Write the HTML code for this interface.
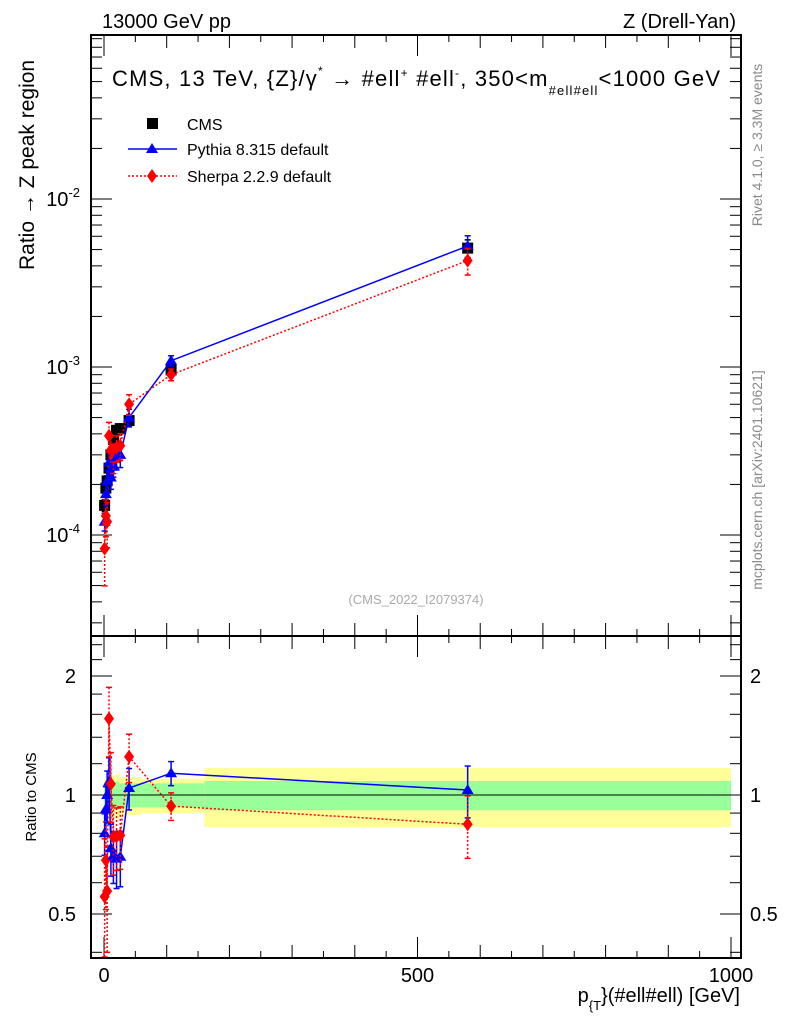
<!DOCTYPE html>
<html><head><meta charset="utf-8"><style>
body{margin:0;background:#fff;}
svg text{font-family:"Liberation Sans",sans-serif;}
</style></head><body>
<svg id="c" width="786" height="1024" xmlns="http://www.w3.org/2000/svg">
<rect width="786" height="1024" fill="#fff"/>
<g id="bands"></g>
<g id="grid"></g>
<g id="marks"></g>
<rect x="91" y="35" width="650" height="601" fill="none" stroke="#000" stroke-width="2"/>
<rect x="91" y="636" width="650" height="322" fill="none" stroke="#000" stroke-width="2"/>
<text x="102" y="28" font-size="20">13000 GeV pp</text>
<text x="736" y="28" font-size="20" text-anchor="end">Z (Drell-Yan)</text>
<text x="112" y="86" font-size="22" textLength="608" lengthAdjust="spacing">CMS, 13 TeV, {Z}/γ<tspan font-size="12" dy="-11">*</tspan><tspan dy="11"> → #ell</tspan><tspan font-size="12" dy="-9">+</tspan><tspan dy="9"> #ell</tspan><tspan font-size="12" dy="-9">-</tspan><tspan dy="9">, 350&lt;m</tspan><tspan font-size="13" dy="9">#ell#ell</tspan><tspan dy="-9">&lt;1000 GeV</tspan></text>
<g>
<rect x="147" y="118" width="11" height="11" fill="#000"/>
<text x="187" y="130" font-size="16">CMS</text>
<line x1="128" y1="149" x2="177" y2="149" stroke="#00f" stroke-width="1.5"/>
<polygon points="152,143 158,153 146,153" fill="#00f"/>
<text x="187" y="155" font-size="16">Pythia 8.315 default</text>
<line x1="128" y1="176" x2="177" y2="176" stroke="#f00" stroke-width="1.5" stroke-dasharray="2,2"/>
<polygon points="152,169 157,176 152,183 147,176" fill="#f00"/>
<text x="187" y="182" font-size="16">Sherpa 2.2.9 default</text>
</g>
<text x="416" y="604" font-size="13" fill="#aaa" text-anchor="middle">(CMS_2022_I2079374)</text>
<text transform="translate(34,270) rotate(-90)" font-size="21" text-anchor="start">Ratio → Z peak region</text>
<text transform="translate(36,797) rotate(-90)" font-size="15" text-anchor="middle">Ratio to CMS</text>
<text x="740" y="1002" font-size="20" text-anchor="end">p<tspan font-size="13" dy="8">{T</tspan><tspan dy="-8">}(#ell#ell) [GeV]</tspan></text>
<text transform="translate(762,145) rotate(-90)" font-size="14" fill="#888" text-anchor="middle">Rivet 4.1.0, ≥ 3.3M events</text>
<text transform="translate(762,480) rotate(-90)" font-size="14" fill="#888" text-anchor="middle">mcplots.cern.ch [arXiv:2401.10621]</text>
</svg>
<script>
const pt = [1, 3, 5, 8, 11, 15, 20, 26, 40, 107, 580];
const cms = [1.5e-4, 1.9e-4, 2.1e-4, 2.5e-4, 3.0e-4, 3.7e-4, 4.2e-4, 4.3e-4, 4.8e-4, 9.6e-4, 5.1e-3];
const cmsErr = [0.08, 0.07, 0.07, 0.06, 0.06, 0.06, 0.06, 0.06, 0.07, 0.08, 0.12];
const pythia = [1.2e-4, 1.75e-4, 2.1e-4, 2.7e-4, 2.2e-4, 2.6e-4, 2.9e-4, 3.0e-4, 5.0e-4, 1.09e-3, 5.25e-3];
const sherpa = [8.3e-5, 1.3e-4, 1.2e-4, 3.9e-4, 3.2e-4, 2.9e-4, 3.3e-4, 3.4e-4, 6.0e-4, 9.0e-4, 4.3e-3];
const pyErr = [0.12, 0.14, 0.15, 0.15, 0.15, 0.15, 0.16, 0.16, 0.12, 0.07, 0.15];
const shErr = [0.4, 0.25, 0.3, 0.2, 0.2, 0.2, 0.18, 0.18, 0.14, 0.08, 0.18];
const bandEdges = [0, 4, 8, 12, 18, 25, 35, 60, 160, 1000];
const bandInner = [0.06, 0.06, 0.07, 0.07, 0.08, 0.07, 0.07, 0.07, 0.085];
const bandOuter = [0.10, 0.11, 0.12, 0.12, 0.13, 0.11, 0.11, 0.10, 0.17];
const mainTicks = [-4, -3, -2];
const ratioTicks = [0.5, 1, 2];
const ratioTickLabels = ["0.5", "1", "2"];
const xTicks = [0, 500, 1000];

const NS = "http://www.w3.org/2000/svg";
const X = v => 104 + 0.627 * v;
const Y = v => 199 - 168 * (Math.log10(v) + 2);
const R = v => 795 - 119 * Math.log2(v);
function el(tag, attrs, parent) {
  const e = document.createElementNS(NS, tag);
  for (const k in attrs) e.setAttribute(k, attrs[k]);
  document.getElementById(parent).appendChild(e);
  return e;
}
for (let i = 0; i < bandInner.length; i++) {
  const x1 = X(bandEdges[i]), x2 = X(bandEdges[i + 1]);
  const y = el('rect', {x: x1, y: R(1 + bandOuter[i]), width: x2 - x1, height: R(1 - bandOuter[i]) - R(1 + bandOuter[i]), fill: '#ffff99'}, 'bands');
  
  
  const g = el('rect', {x: x1, y: R(1 + bandInner[i]), width: x2 - x1, height: R(1 - bandInner[i]) - R(1 + bandInner[i]), fill: '#99ff99'}, 'bands');
  
  
}
const one = el('line', {x1: 91, x2: 741, y1: R(1), y2: R(1), stroke: '#000', 'stroke-width': 1}, 'grid');


for (let d = -5; d <= -1; d++) {
  for (let m = 1; m <= 9; m++) {
    const v = m * Math.pow(10, d), y = Y(v);
    if (y < 35 || y > 636) continue;
    const len = m === 1 ? 20 : 10;
    el('line', {x1: 92, x2: 92 + len, y1: y, y2: y, stroke: '#000'}, 'grid');
    el('line', {x1: 740, x2: 740 - len, y1: y, y2: y, stroke: '#000'}, 'grid');
  }
}
mainTicks.forEach(d => {
  const t = el('text', {x: 80, y: Y(Math.pow(10, d)) + 7, 'font-size': 20, 'text-anchor': 'end'}, 'grid');
  
  
  t.innerHTML = '10<tspan font-size="13" dy="-9">' + d + '</tspan>';
});
[0.4, 0.5, 0.6, 0.7, 0.8, 0.9, 1, 1.2, 1.4, 1.6, 1.8, 2, 2.2, 2.4].forEach(v => {
  const y = R(v), len = (v === 0.5 || v === 1 || v === 2) ? 20 : 10;
  el('line', {x1: 92, x2: 92 + len, y1: y, y2: y, stroke: '#000'}, 'grid');
  el('line', {x1: 740, x2: 740 - len, y1: y, y2: y, stroke: '#000'}, 'grid');
});
ratioTicks.forEach((v, i) => {
  const t = el('text', {x: 76, y: R(v) + 7, 'font-size': 20, 'text-anchor': 'end'}, 'grid');
  
  
  t.textContent = ratioTickLabels[i];
  const t2 = el('text', {x: 750, y: R(v) + 7, 'font-size': 20}, 'grid');
  
  
  t2.textContent = ratioTickLabels[i];
});
for (let v = 0; v <= 1000; v += 50) {
  const len = v % 500 === 0 ? 20 : (v % 100 === 0 ? 12 : 6);
  [[36, 1], [635, -1], [637, 1], [957, -1]].forEach(([y0, s]) => el('line', {x1: X(v), x2: X(v), y1: y0, y2: y0 + s * len, stroke: '#000'}, 'grid'));
}
xTicks.forEach(v => {
  const t = el('text', {x: X(v), y: 982, 'font-size': 20, 'text-anchor': 'middle'}, 'grid');
  
  
  t.textContent = v;
});
function tri(x, y, c, name) {
  const p = el('polygon', {points: `${x},${y - 6} ${x + 6},${y + 4} ${x - 6},${y + 4}`, fill: c}, 'marks');
  
  
}
function dia(x, y, c, name) {
  const p = el('polygon', {points: `${x},${y - 7} ${x + 5},${y} ${x},${y + 7} ${x - 5},${y}`, fill: c}, 'marks');
  
  
}
function err(x, y1, y2, c, dash) {
  const a = {x1: x, x2: x, y1: y1, y2: y2, stroke: c, 'stroke-width': 1.5};
  if (dash) a['stroke-dasharray'] = '2,2';
  el('line', a, 'marks');
  el('line', {x1: x - 3, x2: x + 3, y1: y1, y2: y1, stroke: c, 'stroke-width': 1.5}, 'marks');
  el('line', {x1: x - 3, x2: x + 3, y1: y2, y2: y2, stroke: c, 'stroke-width': 1.5}, 'marks');
}
pt.forEach((p, i) => {
  const x = X(p), y = Y(cms[i]);
  err(x, Y(cms[i] * (1 + cmsErr[i])), Y(cms[i] * (1 - cmsErr[i])), '#000');
  const r = el('rect', {x: x - 5.5, y: y - 5.5, width: 11, height: 11, fill: '#000'}, 'marks');
  
  
});
const pyLine = el('polyline', {points: pt.map((p, i) => X(p) + ',' + Y(pythia[i])).join(' '), fill: 'none', stroke: '#00f', 'stroke-width': 1.5}, 'marks');


const shLine = el('polyline', {points: pt.map((p, i) => X(p) + ',' + Y(sherpa[i])).join(' '), fill: 'none', stroke: '#f00', 'stroke-width': 1.5, 'stroke-dasharray': '2,2'}, 'marks');


pt.forEach((p, i) => {
  err(X(p), Y(pythia[i] * (1 + pyErr[i])), Y(pythia[i] * (1 - pyErr[i])), '#00f');
  tri(X(p), Y(pythia[i]), '#00f', 'pythia-point');
  err(X(p), Y(sherpa[i] * (1 + shErr[i])), Y(sherpa[i] * Math.max(0.3, 1 - shErr[i])), '#f00', true);
  dia(X(p), Y(sherpa[i]), '#f00', 'sherpa-point');
});
const pyR = pythia.map((v, i) => v / cms[i]);
const shR = sherpa.map((v, i) => v / cms[i]);
const pyRL = el('polyline', {points: pt.map((p, i) => X(p) + ',' + R(pyR[i])).join(' '), fill: 'none', stroke: '#00f', 'stroke-width': 1.5}, 'marks');


const shRL = el('polyline', {points: pt.map((p, i) => X(p) + ',' + R(shR[i])).join(' '), fill: 'none', stroke: '#f00', 'stroke-width': 1.5, 'stroke-dasharray': '2,2'}, 'marks');


pt.forEach((p, i) => {
  err(X(p), R(pyR[i] * (1 + pyErr[i])), R(pyR[i] * (1 - pyErr[i])), '#00f');
  tri(X(p), R(pyR[i]), '#00f', 'pythia-ratio-point');
  err(X(p), Math.max(637, R(shR[i] * (1 + shErr[i]))), Math.min(957, R(shR[i] * Math.max(0.2, 1 - shErr[i]))), '#f00', true);
  dia(X(p), R(shR[i]), '#f00', 'sherpa-ratio-point');
});
</script>
</body></html>
